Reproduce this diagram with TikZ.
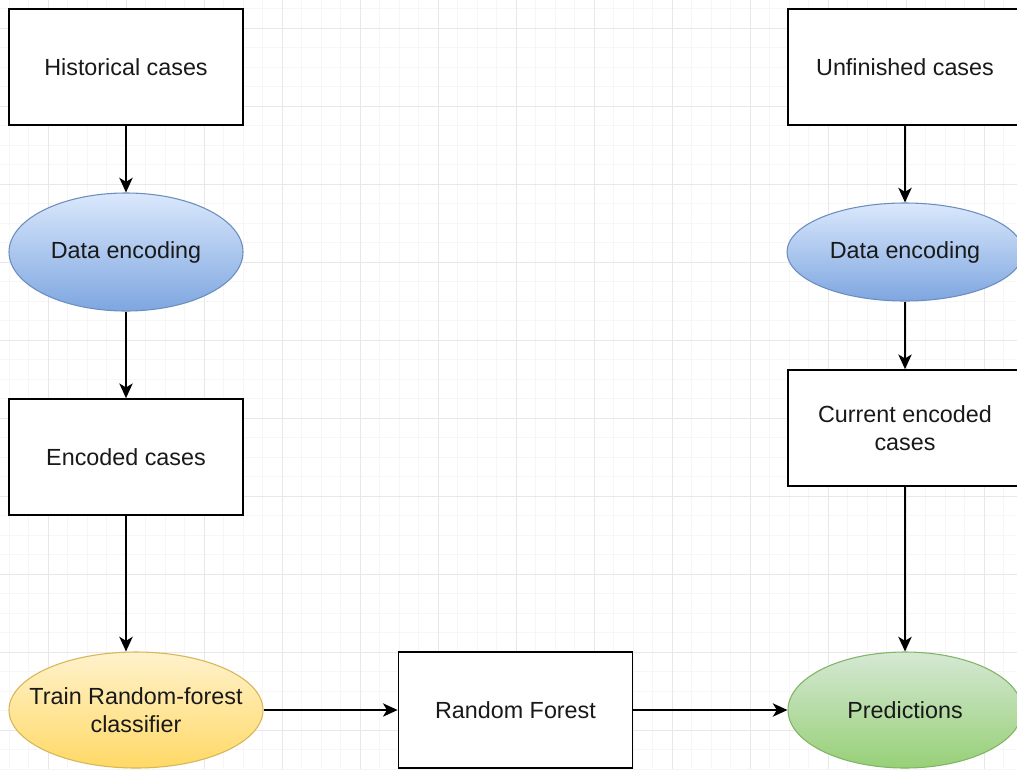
\documentclass[tikz,border=0pt]{standalone}
\usepackage{fontspec}
\setmainfont{Liberation Sans}
\usetikzlibrary{shapes.geometric,arrows.meta}
\definecolor{blueT}{HTML}{DAE8FC}
\definecolor{blueB}{HTML}{7EA6E0}
\definecolor{blueD}{HTML}{6C8EBF}
\definecolor{yelT}{HTML}{FFF2CC}
\definecolor{yelB}{HTML}{FFD966}
\definecolor{yelD}{HTML}{D6B656}
\definecolor{grnT}{HTML}{D5E8D4}
\definecolor{grnB}{HTML}{97D077}
\definecolor{grnD}{HTML}{82B366}
\definecolor{gridminor}{HTML}{F6F6F6}
\definecolor{gridmajor}{HTML}{E8E8E8}
\begin{document}
\begin{tikzpicture}[x=0.75pt,y=-0.75pt,
  txt/.style={font=\fontsize{17.5}{20.5}\selectfont, align=center, text=black!90, inner sep=0pt},
  box/.style={txt, draw=black, line width=1.3pt, fill=white, rectangle, minimum width=175.5pt, minimum height=87pt},
  oval/.style={ellipse, line width=0.8pt, inner sep=0pt, label={[txt]center:#1}},
  bluefill/.style={draw=blueD, top color=blueT, bottom color=blueB},
  yelfill/.style={draw=yelD, top color=yelT, bottom color=yelB},
  grnfill/.style={draw=grnD, top color=grnT, bottom color=grnB},
  arr/.style={line width=1.4pt, draw=black, -{Stealth[length=11pt,width=10pt,inset=3pt]}},
  minorline/.style={draw=gridminor, line width=0.75pt},
  majorline/.style={draw=gridmajor, line width=0.75pt}]
\useasboundingbox (0,0) rectangle (1017,769);
\clip (0,0) rectangle (1017,769);
\fill[white] (0,0) rectangle (1017,769);
% grid
\foreach \i in {-3,...,52} { \draw[minorline] ({48+19.5*\i},0) -- ({48+19.5*\i},769); }
\foreach \i in {-2,...,40} { \draw[minorline] (0,{28+19.5*\i}) -- (1017,{28+19.5*\i}); }
\foreach \i in {-1,...,13} { \draw[majorline] ({48+78*\i},0) -- ({48+78*\i},769); }
\foreach \i in {-1,...,10} { \draw[majorline] (0,{28+78*\i}) -- (1017,{28+78*\i}); }
% nodes
\node[box] (hist) at (126,67) {Historical cases};
\node[oval={Data encoding}, bluefill, minimum width=175.5pt, minimum height=88.5pt] (de1) at (126,252) {};
\node[box] (enc) at (126,457) {Encoded cases};
\node[oval={Train Random-forest\\classifier}, yelfill, minimum width=190.5pt, minimum height=87pt] (train) at (136,710) {};
\node[box] (rf) at (515.5,710) {Random Forest};
\node[box] (unf) at (905,67) {Unfinished cases};
\node[oval={Data encoding}, bluefill, minimum width=177pt, minimum height=73.5pt] (de2) at (905,252) {};
\node[box] (cur) at (905,428) {Current encoded\\cases};
\node[oval={Predictions}, grnfill, minimum width=175.5pt, minimum height=87pt] (pred) at (905,710) {};
% connectors
\draw[arr] (hist.south) -- (de1.north);
\draw[arr] (de1.south) -- (enc.north);
\draw[arr] (enc.south) -- (enc.south |- train.north);
\draw[arr] (train.east) -- (rf.west);
\draw[arr] (rf.east) -- (pred.west);
\draw[arr] (unf.south) -- (de2.north);
\draw[arr] (de2.south) -- (cur.north);
\draw[arr] (cur.south) -- (pred.north);
\end{tikzpicture}
\end{document}
